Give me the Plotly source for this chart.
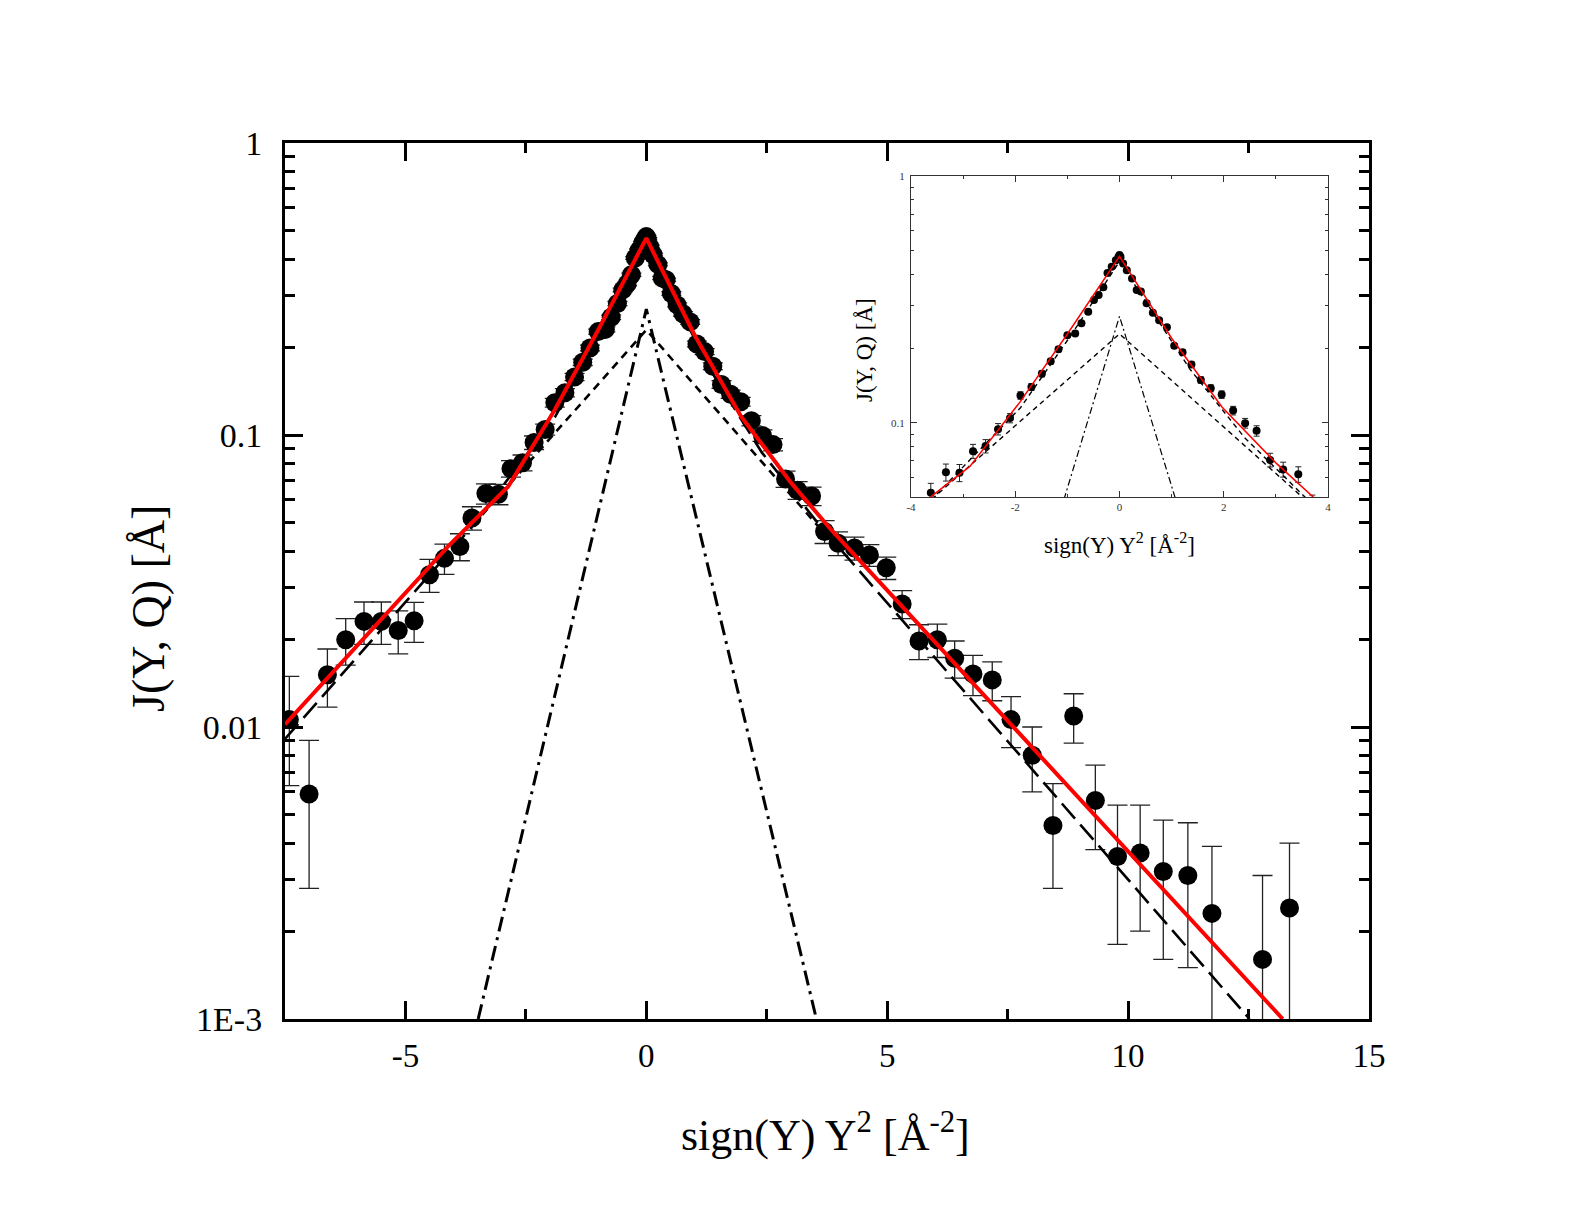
import plotly.graph_objects as go

# ---------------- data ----------------
x_data = [-7.41, -7.00, -6.62, -6.24, -5.86, -5.50, -5.15, -4.82, -4.50, -4.19,
          -3.87, -3.62, -3.33, -3.07, -2.81, -2.57, -2.33, -2.10, -1.90, -1.69,
          -1.49, -1.32, -1.17, -1.00, -0.85, -0.73, -0.60, -0.49, -0.40, -0.31,
          -0.23, -0.15, -0.07, -0.02, 0.00, 0.02, 0.07, 0.14, 0.24, 0.33,
          0.41, 0.52, 0.64, 0.76, 0.91, 1.05, 1.21, 1.38, 1.56, 1.75,
          1.96, 2.18, 2.41, 2.63, 2.89, 3.14, 3.43, 3.70, 3.98, 4.32,
          4.63, 4.98, 5.31, 5.66, 6.04, 6.40, 6.78, 7.18, 7.57, 8.01,
          8.44, 8.87, 9.32, 9.78, 10.25, 10.73, 11.24, 11.74, 12.79, 13.35]
y_data = [0.0106, 0.0059, 0.0151, 0.0199, 0.0230, 0.0230, 0.0214, 0.0231, 0.0332, 0.0378,
          0.0415, 0.0520, 0.0630, 0.0627, 0.0767, 0.0804, 0.0942, 0.1044, 0.129, 0.1396,
          0.158, 0.1775, 0.1985, 0.226, 0.230, 0.253, 0.282, 0.314, 0.329, 0.354,
          0.404, 0.429, 0.456, 0.470, 0.478, 0.470, 0.442, 0.415, 0.384, 0.345,
          0.340, 0.305, 0.279, 0.260, 0.244, 0.205, 0.193, 0.172, 0.149, 0.138,
          0.130, 0.112, 0.0996, 0.0927, 0.0707, 0.0647, 0.0618, 0.0467, 0.0426, 0.0410,
          0.0388, 0.0351, 0.0264, 0.0197, 0.0199, 0.0172, 0.0152, 0.0145, 0.0106, 0.0080,
          0.0046, 0.0109, 0.0056, 0.0036, 0.0037, 0.0032, 0.0031, 0.0023, 0.0016, 0.0024]
y_err = [0.0043, 0.0031, 0.0034, 0.0036, 0.0038, 0.0038, 0.0036, 0.0036, 0.0043, 0.0045,
         0.0044, 0.0048, 0.0050, 0.0050, 0.0050, 0.0050, 0.0050, 0.0045, 0.0045, 0.0045,
         0.0045, 0.0045, 0.0045, 0.0045, 0.0045, 0.0045, 0.0045, 0.0045, 0.0045, 0.0045,
         0.0045, 0.0045, 0.0045, 0.0045, 0.0045, 0.0045, 0.0045, 0.0045, 0.0045, 0.0045,
         0.0045, 0.0045, 0.0045, 0.0045, 0.0045, 0.0045, 0.0045, 0.0045, 0.0045, 0.0045,
         0.0045, 0.0045, 0.0045, 0.0045, 0.0045, 0.0045, 0.0045, 0.0042, 0.0040, 0.0037,
         0.0033, 0.0031, 0.0029, 0.0027, 0.0026, 0.0025, 0.0024, 0.0022, 0.0021, 0.0020,
         0.0018, 0.0021, 0.0018, 0.0018, 0.0017, 0.0016, 0.0016, 0.0016, 0.0015, 0.0016]

# total fit (red)
fit_x = [-7.5, -4.74, -4.12, -2.87, -1.90, -1.00, 0.00, 1.00, 1.97, 3.01, 3.84, 4.81, 13.21]
fit_y = [0.0102, 0.0318, 0.0415, 0.0665, 0.122, 0.229, 0.472, 0.220, 0.1156, 0.0684, 0.0473, 0.0318, 0.0010]
# second model curve (long dash)
alt_x = [-7.5, -3.6, -1.90, -0.92, 0.00, 1.35, 2.40, 3.60, 12.52]
alt_y = [0.0091, 0.049, 0.115, 0.228, 0.45, 0.165, 0.087, 0.049, 0.0010]
# broad component (short dash)
broad_x = [-3.6, 0.0, 3.6]
broad_y = [0.049, 0.229, 0.048]
# narrow component (dash-dot)
narrow_x = [-3.49, 0.0, 3.53]
narrow_y = [0.0010, 0.270, 0.0010]

main_y_ticks = [0.001, 0.01, 0.1, 1]
main_y_text = ["1E-3", "0.01", "0.1", "1"]
main_x_ticks = [-5, 0, 5, 10, 15]
main_x_text = ["-5", "0", "5", "10", "15"]
inset_x_ticks = [-4, -2, 0, 2, 4]
inset_x_text = ["-4", "-2", "0", "2", "4"]
inset_y_ticks = [0.1, 1]
inset_y_text = ["0.1", "1"]

FONT = "Liberation Serif, Times New Roman, serif"
W, H = 1592, 1221

fig = go.Figure()

def add_set(xa, ya, msize, capw, ethick, red_w, dash_w, long_dash, short_dash, dd, dd_w):
    fig.add_trace(go.Scatter(
        x=x_data, y=y_data, mode="markers", xaxis=xa, yaxis=ya,
        marker=dict(color="black", size=msize, line=dict(width=0)),
        error_y=dict(type="data", array=y_err, visible=True, color="#222222",
                     thickness=ethick, width=capw),
        showlegend=False, cliponaxis=True))
    fig.add_trace(go.Scatter(x=narrow_x, y=narrow_y, mode="lines", xaxis=xa, yaxis=ya,
                             line=dict(color="black", width=dd_w, dash=dd), showlegend=False))
    fig.add_trace(go.Scatter(x=broad_x, y=broad_y, mode="lines", xaxis=xa, yaxis=ya,
                             line=dict(color="black", width=dash_w, dash=short_dash), showlegend=False))
    fig.add_trace(go.Scatter(x=alt_x, y=alt_y, mode="lines", xaxis=xa, yaxis=ya,
                             line=dict(color="black", width=dash_w, dash=long_dash), showlegend=False))
    fig.add_trace(go.Scatter(x=fit_x, y=fit_y, mode="lines", xaxis=xa, yaxis=ya,
                             line=dict(color="#ff0000", width=red_w), showlegend=False))

add_set("x", "y", 19, 10, 1.3, 4, 2.6, "20px,8px", "8px,6px", "15px,6px,3px,6px", 3)
add_set("x2", "y2", 8, 3, 1, 1.5, 1.4, "5px,4px", "5px,4px", "7px,3px,2px,3px", 1.2)

# main axes
L, R, T, B = 285, 1369, 143, 1019
fig.update_layout(
    width=W, height=H, margin=dict(l=0, r=0, t=0, b=0, autoexpand=False),
    paper_bgcolor="white", plot_bgcolor="white",
    font=dict(family=FONT, color="black"),
    xaxis=dict(domain=[L / W, R / W], range=[-7.5, 15], showgrid=False, zeroline=False,
               automargin=False,
               showline=True, linewidth=3, linecolor="black", mirror="ticks",
               ticks="inside", ticklen=18, tickwidth=3, tickcolor="black",
               tickvals=main_x_ticks, ticktext=main_x_text, tickfont=dict(size=33, family=FONT),
               ticklabelstandoff=5,
               minor=dict(ticks="inside", ticklen=10, tickwidth=2.5, tickcolor="black",
                          dtick=2.5, tick0=0, showgrid=False)),
    yaxis=dict(domain=[1 - B / H, 1 - T / H], type="log", range=[-3, 0], showgrid=False,
               automargin=False,
               zeroline=False, showline=True, linewidth=3, linecolor="black", mirror="ticks",
               ticks="inside", ticklen=18, tickwidth=3, tickcolor="black",
               tickvals=main_y_ticks, ticktext=main_y_text, tickfont=dict(size=34, family=FONT),
               ticklabelstandoff=13,
               minor=dict(ticks="inside", ticklen=10, tickwidth=2.5, tickcolor="black",
                          dtick="D1", showgrid=False)),
)

# inset axes
iL, iR, iT, iB = 911, 1328, 176, 497
fig.update_layout(
    xaxis2=dict(domain=[iL / W, iR / W], anchor="y2", range=[-4, 4], showgrid=False,
                automargin=False,
                zeroline=False, showline=True, linewidth=1.3, linecolor="#333333", mirror="ticks",
                ticks="inside", ticklen=6, tickwidth=1, tickcolor="#333333",
                tickvals=inset_x_ticks, ticktext=inset_x_text,
                tickfont=dict(size=11, family=FONT, color="#333333"),
                minor=dict(ticks="inside", ticklen=3, tickwidth=1, tickcolor="#333333",
                           dtick=1, tick0=0, showgrid=False)),
    yaxis2=dict(domain=[1 - iB / H, 1 - iT / H], anchor="x2", type="log",
                automargin=False,
                range=[-1.30103, 0], showgrid=False, zeroline=False, showline=True,
                linewidth=1.3, linecolor="#333333", mirror="ticks",
                ticks="inside", ticklen=6, tickwidth=1, tickcolor="#333333",
                tickvals=inset_y_ticks, ticktext=inset_y_text,
                tickfont=dict(size=11, family=FONT, color="#333333"), ticklabelstandoff=3,
                minor=dict(ticks="inside", ticklen=3, tickwidth=1, tickcolor="#333333",
                           dtick="D1", showgrid=False)),
)

ann = [
    dict(text="sign(Y) Y<sup>2</sup> [Å<sup>-2</sup>]", x=825 / W, y=1 - 1132 / H,
         font=dict(size=44, family=FONT, color="black")),
    dict(text="J(Y, Q) [Å]", x=148 / W, y=1 - 609 / H, textangle=-90,
         font=dict(size=46, family=FONT, color="black")),
    dict(text="sign(Y) Y<sup>2</sup> [Å<sup>-2</sup>]", x=1119 / W, y=1 - 543 / H,
         font=dict(size=23, family=FONT, color="black")),
    dict(text="J(Y, Q) [Å]", x=864 / W, y=1 - 350 / H, textangle=-90,
         font=dict(size=23, family=FONT, color="black")),
]
for a in ann:
    fig.add_annotation(xref="paper", yref="paper", showarrow=False,
                       xanchor="center", yanchor="middle", **a)

fig.write_html("out.html")
